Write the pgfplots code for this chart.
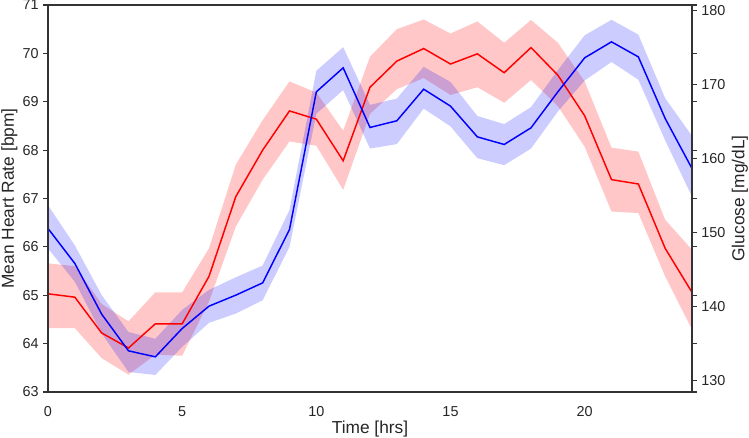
\documentclass[border=0pt]{standalone}
\usepackage{fontspec}
\setmainfont{Liberation Sans}
\usepackage{pgfplots}
\pgfplotsset{compat=1.18}
\usepackage{pgfplotstable}
\usepgfplotslibrary{fillbetween}
\usetikzlibrary{calc}

\definecolor{spine}{HTML}{333333}
\definecolor{txt}{HTML}{262626}

% x, mean, lower, upper
\pgfplotstableread{
x m lo hi
0 65.03 64.32 65.66
1 64.96 64.32 65.60
2 64.22 63.70 64.82
3 63.91 63.36 64.46
4 64.41 63.77 65.06
5 64.41 63.75 65.06
6 65.39 64.87 65.97
7 67.04 66.42 67.70
8 68.00 67.39 68.62
9 68.81 68.18 69.42
10 68.64 68.09 69.19
11 67.78 67.18 68.40
12 69.30 68.75 69.93
13 69.84 69.26 70.50
14 70.10 69.49 70.70
15 69.78 69.14 70.41
16 69.99 69.30 70.66
17 69.60 68.98 70.22
18 70.12 69.45 70.69
19 69.55 68.91 70.22
20 68.71 68.07 69.42
21 67.39 66.73 68.05
22 67.30 66.70 67.97
23 65.97 65.39 66.56
24 65.06 64.29 65.94
}\hr

\pgfplotstableread{
x m lo hi
0 150.5 147.8 153.65
1 145.77 143.3 148.2
2 138.92 136.3 141.5
3 133.96 131.1 136.5
4 133.15 130.7 135.6
5 136.98 134.5 139.5
6 140.0 137.75 142.2
7 141.49 139.0 143.9
8 143.15 140.8 145.5
9 150.36 148.0 153.0
10 168.96 166.0 171.8
11 172.21 169.2 175.0
12 164.15 161.3 167.2
13 165.05 161.9 168.06
14 169.32 166.7 172.34
15 167.03 164.3 170.3
16 162.88 160.0 165.7
17 161.85 159.05 164.6
18 164.1 161.3 166.9
19 168.96 166.3 171.9
20 173.56 170.5 176.6
21 175.72 173.0 178.7
22 173.69 170.6 176.7
23 165.36 162.4 168.1
24 158.6 154.8 163.0
}\glu

\pgfplotsset{
  common/.style={
    scale only axis, width=483pt, height=290.25pt,
    xmin=0, xmax=24,
    axis line style={spine, line width=0.9pt},
    tick style={spine, line width=0.8pt},
    tick align=outside, major tick length=3.5pt,
    ticklabel style={font=\fontsize{10.8}{12}\selectfont, text=txt},
    label style={font=\fontsize{13}{15}\selectfont, text=txt},
    /pgf/number format/assume math mode=true,
  },
}

\begin{document}
\begin{tikzpicture}
\begin{axis}[common, name=ax,
  ymin=63, ymax=71, ytick={63,64,...,71},
  xtick={0,5,10,15,20}, x tick style={draw=none},
  xticklabel style={yshift=-4pt},
  xlabel={Time [hrs]}, ylabel={Mean Heart Rate [bpm]},
  xlabel style={at={(axis description cs:0.5,-0.0956)}, anchor=center},
  ylabel style={at={(axis description cs:-0.0598,0.5)}, anchor=center},
]
\addplot[name path=hlo, draw=none] table[x=x, y=lo] {\hr};
\addplot[name path=hhi, draw=none] table[x=x, y=hi] {\hr};
\addplot[red, fill opacity=0.22, draw=none] fill between[of=hlo and hhi];
\addplot[red, line width=1.1pt] table[x=x, y=m] {\hr};
\end{axis}
\begin{axis}[common,
  axis x line=none, axis y line*=right,
  ymin=128.4, ymax=180.7, ytick={130,140,...,180},
  ylabel={Glucose [mg/dL]},
  ylabel style={at={(axis description cs:1.0745,0.5)}, anchor=center},
]
\addplot[name path=glo, draw=none] table[x=x, y=lo] {\glu};
\addplot[name path=ghi, draw=none] table[x=x, y=hi] {\glu};
\addplot[blue, fill opacity=0.2, draw=none] fill between[of=glo and ghi];
\addplot[blue, line width=1.1pt] table[x=x, y=m] {\glu};
\end{axis}
\draw[spine, line width=0.9pt] (ax.south west) rectangle (ax.north east);
\pgfresetboundingbox
\useasboundingbox ($(ax.south west)+(-36pt,-34.5pt)$) rectangle ($(ax.north east)+(42.75pt,3.75pt)$);
\end{tikzpicture}
\end{document}
